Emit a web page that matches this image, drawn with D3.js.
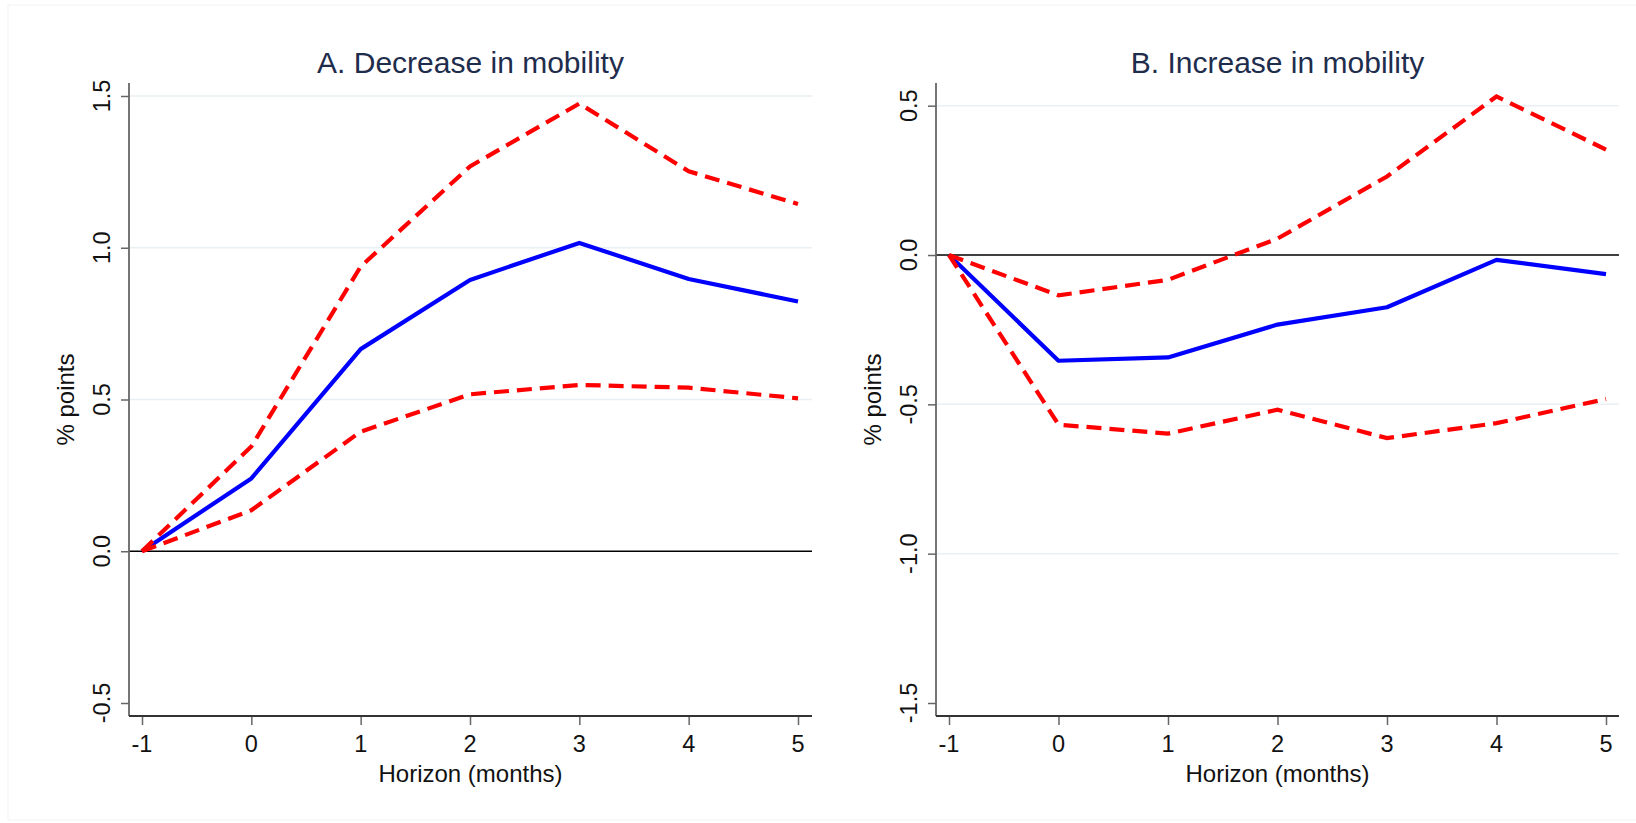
<!DOCTYPE html>
<html>
<head>
<meta charset="utf-8">
<script src="https://cdn.jsdelivr.net/npm/d3@7"></script>
<style>
  body { margin: 0; background: #fff; }
  svg { display: block; font-family: "Liberation Sans", Arial, sans-serif; }
</style>
</head>
<body>
<svg id="chart" width="1636" height="823"></svg>
<script>
// horizon in months
const horizon = [-1, 0, 1, 2, 3, 4, 5];

// A. Decrease in mobility
const decreaseEst   = [0, 0.240, 0.666, 0.894, 1.016, 0.897, 0.823];
const decreaseUpper = [0, 0.345, 0.938, 1.268, 1.475, 1.252, 1.144];
const decreaseLower = [0, 0.135, 0.394, 0.517, 0.548, 0.539, 0.504];
const decreaseTicks = [-0.5, 0, 0.5, 1, 1.5];

// B. Increase in mobility
const increaseEst   = [0, -0.354, -0.343, -0.233, -0.175, -0.016, -0.064];
const increaseUpper = [0, -0.135, -0.083, 0.055, 0.263, 0.531, 0.353];
const increaseLower = [0, -0.568, -0.598, -0.518, -0.613, -0.563, -0.482];
const increaseTicks = [-1.5, -1, -0.5, 0, 0.5];

const xTicks = [-1, 0, 1, 2, 3, 4, 5];

const svg = d3.select("#chart");

// faint outer frame
svg.append("rect")
  .attr("x", 8).attr("y", 5)
  .attr("width", 1640).attr("height", 815)
  .attr("fill", "none")
  .attr("stroke", "#f6f6f6")
  .attr("stroke-width", 1.2);

const panels = [
  {title: "A. Decrease in mobility", est: decreaseEst, upper: decreaseUpper, lower: decreaseLower,
   ticks: decreaseTicks, left: 129, right: 812, x0: 142, x1: 798, yMaxPx: 96},
  {title: "B. Increase in mobility", est: increaseEst, upper: increaseUpper, lower: increaseLower,
   ticks: increaseTicks, left: 936, right: 1619, x0: 949, x1: 1606, yMaxPx: 105.7}
];

const plotTop = 83, plotBottom = 716;

panels.forEach(p => {
  const g = svg.append("g");

  const x = d3.scaleLinear().domain([-1, 5]).range([p.x0, p.x1]);
  const y = d3.scaleLinear().domain(d3.extent(p.ticks)).range([703, p.yMaxPx]);

  // grid lines (not at zero, not at the lowest tick)
  g.selectAll(".grid")
    .data(p.ticks.filter(t => t !== 0 && t !== p.ticks[0]))
    .enter().append("line")
    .attr("x1", p.left).attr("x2", p.right)
    .attr("y1", d => y(d)).attr("y2", d => y(d))
    .attr("stroke", "#e9f0f3")
    .attr("stroke-width", 1.5);

  // zero line
  g.append("line")
    .attr("x1", p.left).attr("x2", p.right)
    .attr("y1", y(0)).attr("y2", y(0))
    .attr("stroke", "#000")
    .attr("stroke-width", 1.6);

  // y axis
  const yAxis = g.append("g")
    .attr("transform", `translate(${p.left},0)`)
    .call(d3.axisLeft(y).tickValues(p.ticks).tickSize(8).tickFormat(""));
  yAxis.select(".domain").remove();
  yAxis.selectAll(".tick line").attr("stroke", "#666").attr("stroke-width", 1.5);
  g.append("line")
    .attr("x1", p.left).attr("x2", p.left)
    .attr("y1", plotTop).attr("y2", plotBottom)
    .attr("stroke", "#666").attr("stroke-width", 1.8);

  g.selectAll(".ylab")
    .data(p.ticks)
    .enter().append("text")
    .attr("transform", d => `translate(${p.left - 27},${y(d)}) rotate(-90)`)
    .attr("text-anchor", "middle")
    .attr("dominant-baseline", "central")
    .attr("font-size", 23.5)
    .attr("fill", "#111")
    .text(d => d.toFixed(1));

  // x axis
  const xAxis = g.append("g")
    .attr("transform", `translate(0,${plotBottom})`)
    .call(d3.axisBottom(x).tickValues(xTicks).tickSize(9).tickFormat(""));
  xAxis.select(".domain").remove();
  xAxis.selectAll(".tick line").attr("stroke", "#666").attr("stroke-width", 1.5);
  g.append("line")
    .attr("x1", p.left).attr("x2", p.right)
    .attr("y1", plotBottom).attr("y2", plotBottom)
    .attr("stroke", "#333").attr("stroke-width", 1.8);

  g.selectAll(".xlab")
    .data(xTicks)
    .enter().append("text")
    .attr("x", d => x(d))
    .attr("y", 752)
    .attr("text-anchor", "middle")
    .attr("font-size", 23.5)
    .attr("fill", "#111")
    .text(d => d);

  // axis titles
  g.append("text")
    .attr("x", (p.left + p.right) / 2)
    .attr("y", 782)
    .attr("text-anchor", "middle")
    .attr("font-size", 24)
    .attr("fill", "#111")
    .text("Horizon (months)");

  g.append("text")
    .attr("transform", `translate(${p.left - 64},${(plotTop + plotBottom) / 2}) rotate(-90)`)
    .attr("text-anchor", "middle")
    .attr("dominant-baseline", "central")
    .attr("font-size", 24)
    .attr("fill", "#111")
    .text("% points");

  // panel title
  g.append("text")
    .attr("x", (p.left + p.right) / 2)
    .attr("y", 73)
    .attr("text-anchor", "middle")
    .attr("font-size", 30)
    .attr("fill", "#1f2d4d")
    .text(p.title);

  const line = d3.line()
    .x((d, i) => x(horizon[i]))
    .y(d => y(d));

  g.append("path")
    .datum(p.est)
    .attr("d", line)
    .attr("fill", "none")
    .attr("stroke", "#0000ff")
    .attr("stroke-width", 4.2)
    .attr("stroke-linejoin", "round");

  [p.upper, p.lower].forEach(s => {
    g.append("path")
      .datum(s)
      .attr("d", line)
      .attr("fill", "none")
      .attr("stroke", "#ff0000")
      .attr("stroke-width", 4.2)
      .attr("stroke-dasharray", "15,8");
  });
});
</script>
</body>
</html>
